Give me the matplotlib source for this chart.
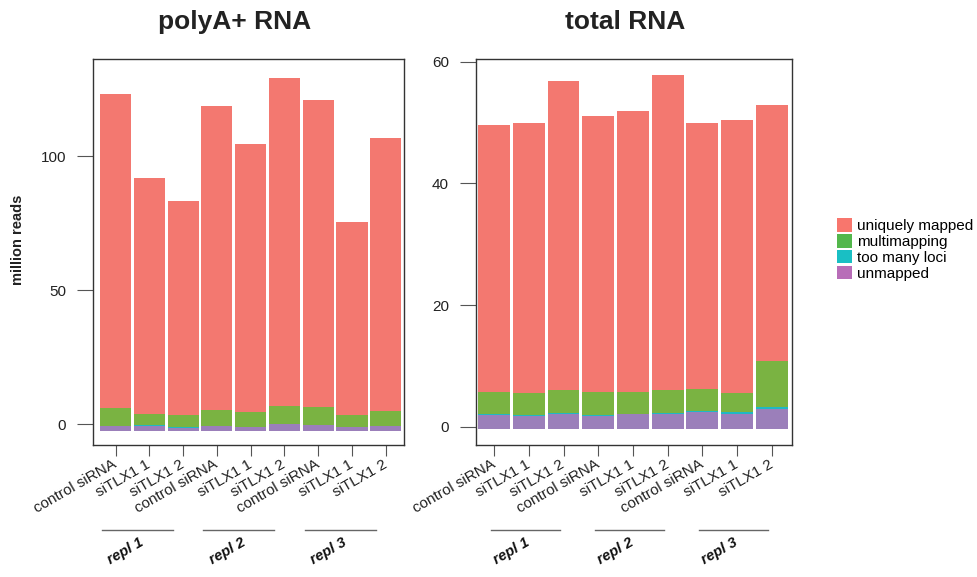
import matplotlib
matplotlib.use('Agg')
import matplotlib.pyplot as plt
import matplotlib.transforms as mtransforms
from matplotlib.patches import Patch
import numpy as np

plt.rcParams['font.family'] = ['Liberation Sans', 'DejaVu Sans']

samples = ['control siRNA', 'siTLX1 1', 'siTLX1 2'] * 3
replicates = ['repl 1', 'repl 2', 'repl 3']
categories = ['unmapped', 'too many loci', 'multimapping', 'uniquely mapped']

# million reads per segment, stacked from bottom (unmapped) to top (uniquely mapped)
polya_base = -2.4
polya_unmapped = [1.9, 1.6, 1.2, 1.9, 1.5, 2.7, 2.25, 1.5, 1.9]
polya_toomany = [0.0, 0.4, 0.25, 0.0, 0.05, 0.0, 0.0, 0.05, 0.0]
polya_multi = [6.7, 4.4, 4.5, 6.0, 5.6, 6.7, 6.7, 4.2, 5.6]
polya_unique = [117.0, 87.9, 79.8, 113.3, 99.9, 122.2, 114.5, 72.2, 101.7]

total_base = -0.4
total_unmapped = [2.3, 2.2, 2.5, 2.2, 2.5, 2.5, 2.8, 2.5, 3.3]
total_toomany = [0.2, 0.1, 0.1, 0.1, 0.05, 0.16, 0.2, 0.33, 0.33]
total_multi = [3.6, 3.6, 3.8, 3.8, 3.6, 3.8, 3.6, 3.1, 7.6]
total_unique = [43.9, 44.4, 50.8, 45.4, 46.15, 51.7, 43.7, 44.9, 42.1]

bar_colors = ['#9B7FBA', '#1FB8C4', '#7AB342', '#F37870']
legend_colors = ['#F8766D', '#53B74C', '#19BFC4', '#B86DB8']
legend_labels = ['uniquely mapped', 'multimapping', 'too many loci', 'unmapped']

fig = plt.figure(figsize=(9.77, 5.77), dpi=100)
ax1 = fig.add_axes([0.0955, 0.2288, 0.318, 0.669])
ax2 = fig.add_axes([0.4872, 0.2288, 0.3231, 0.669])


def draw_panel(ax, base, segs, xlim, ylim, yticks, line_off, lab_off):
    x = np.arange(len(samples))
    bottom = np.full(len(samples), base, dtype=float)
    for vals, col in zip(segs, bar_colors):
        ax.bar(x, vals, bottom=bottom, width=0.92, color=col, linewidth=0)
        bottom = bottom + np.array(vals)
    ax.set_xlim(*xlim)
    ax.set_ylim(*ylim)
    ax.set_yticks(yticks)
    ax.set_xticks(x)
    ax.set_xticklabels(samples, rotation=30, ha='right', va='center',
                       rotation_mode='anchor', fontsize=11, color='#222222')
    ax.tick_params(axis='x', length=8, color='#555555', pad=5)
    ax.tick_params(axis='y', length=11.5, color='#555555', pad=8,
                   labelsize=11, labelcolor='#222222')
    for s in ax.spines.values():
        s.set_color('#333333')
        s.set_linewidth(1.0)
    trans = mtransforms.blended_transform_factory(ax.transData, ax.transAxes)
    for g, rep in enumerate(replicates):
        i0 = g * 3
        ax.plot([i0 + line_off[0], i0 + line_off[1]], [-0.22, -0.22],
                color='#666666', lw=1, transform=trans, clip_on=False)
        ax.text(i0 + lab_off, -0.275, rep, transform=trans, rotation=30,
                ha='center', va='center', fontsize=10.5, fontweight='bold',
                fontstyle='italic', color='#111111')


draw_panel(ax1, polya_base,
           [polya_unmapped, polya_toomany, polya_multi, polya_unique],
           (-0.66, 8.54), (-7.7, 136.3), [0, 50, 100], (-0.4, 1.7), 0.3)
draw_panel(ax2, total_base,
           [total_unmapped, total_toomany, total_multi, total_unique],
           (-0.52, 8.57), (-3.0, 60.45), [0, 20, 40, 60], (-0.1, 1.9), 0.5)

fig.text(235 / 977, 1 - 22 / 577, 'polyA+ RNA', ha='center', va='center',
         fontsize=19, fontweight='bold', color='#222222')
fig.text(625 / 977, 1 - 22 / 577, 'total RNA', ha='center', va='center',
         fontsize=19, fontweight='bold', color='#222222')
fig.text(18 / 977, 1 - 240 / 577, 'million reads', rotation=90, ha='center',
         va='center', fontsize=10.5, fontweight='bold', color='#222222')

handles = [Patch(facecolor=c, edgecolor='none') for c in legend_colors]
fig.legend(handles, legend_labels, loc='upper left',
           bbox_to_anchor=(831 / 977, 1 - 212 / 577), frameon=False,
           fontsize=11, handlelength=1.0, handleheight=1.0,
           labelspacing=0.05, handletextpad=0.3, borderaxespad=0)

fig.savefig('out.png', dpi=100)
